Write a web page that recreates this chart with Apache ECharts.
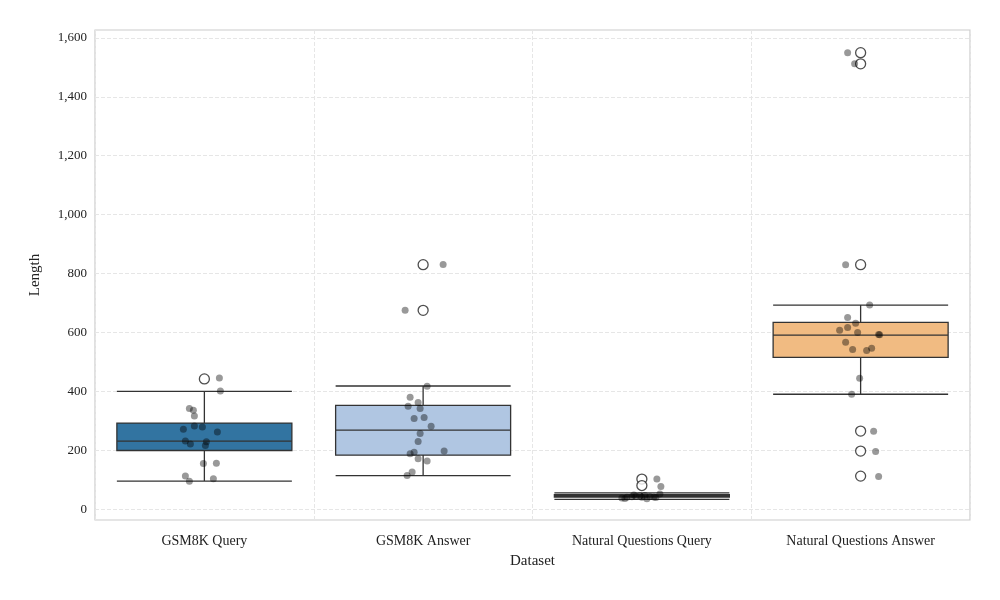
<!DOCTYPE html>
<html>
<head>
<meta charset="utf-8">
<script src="https://cdn.jsdelivr.net/npm/echarts@6/dist/echarts.min.js"></script>
<style>html,body{margin:0;padding:0;background:#fff}#contain{width:1000px;height:600px}</style>
</head>
<body>
<div id="contain"></div>
<script>
var categories = ['GSM8K Query', 'GSM8K Answer', 'Natural Questions Query', 'Natural Questions Answer'];
var colors = ['#3274a1', '#b0c6e2', '#e1812c', '#f1bb82'];
// [lower whisker, Q1, median, Q3, upper whisker]
var boxStats = [
    [95, 199, 231, 292, 400],
    [114, 183, 268, 352, 418],
    [33, 41, 45, 49, 55],
    [390, 515, 591, 634, 693]
];
var outliers = [
    [442],
    [830, 675],
    [102, 80],
    [1550, 1512, 830, 265, 197, 112]
];
// jitter points: values and horizontal offsets (px) per group
var pointValues = [
    [445, 401, 342, 336, 316, 271, 282, 279, 262, 231, 221, 229, 216, 155, 156, 112, 95, 103],
    [831, 675, 417, 380, 362, 349, 342, 308, 311, 281, 257, 230, 197, 188, 193, 171, 163, 126, 114],
    [102, 77, 51, 38, 40, 42, 44, 45, 46, 43, 41, 36, 35, 48, 40, 39],
    [1550, 1512, 830, 693, 651, 631, 607, 617, 600, 593, 592, 567, 542, 539, 546, 444, 390, 264, 196, 111]
];
var pointOffsets = [
    [15, 16, -15, -11, -10, -21, -10, -2, 13, -19, -14, 2, 1, -1, 12, -19, -15, 9],
    [20, -18, 4, -13, -5, -15, -3, -9, 1, 8, -3, -5, 21, -13, -9, -5, 4, -11, -16],
    [15, 19, 18, -20, -15, -10, -6, -2, 3, 8, 12, -17, 5, -8, 0, 14],
    [-13, -6, -15, 9, -13, -5, -21, -13, -3, 18, 19, -15, -8, 6, 11, -1, -9, 13, 15, 18]
];
var yTicks = [0, 200, 400, 600, 800, 1000, 1200, 1400, 1600];

var catWidth = 875 / 4;
var jitter = [];
var hollow = [];
for (var g = 0; g < 4; g++) {
    for (var i = 0; i < pointValues[g].length; i++) {
        jitter.push([g + pointOffsets[g][i] / catWidth, pointValues[g][i]]);
    }
    for (var j = 0; j < outliers[g].length; j++) {
        hollow.push([g, outliers[g][j]]);
    }
}

var font = 'Liberation Serif';
var option = {
    animation: false,
    grid: {left: 95, right: 30, top: 30, bottom: 80, show: true, borderColor: '#cccccc', borderWidth: 1.2},
    xAxis: [{
        type: 'category',
        data: categories,
        name: 'Dataset',
        nameLocation: 'middle',
        nameGap: 34,
        nameTextStyle: {fontFamily: font, fontSize: 15, color: '#222'},
        axisLine: {show: false},
        axisTick: {show: false},
        axisLabel: {fontFamily: font, fontSize: 14, color: '#222', margin: 14},
        splitLine: {show: true, lineStyle: {type: 'dashed', color: '#e6e6e6'}}
    }, {
        type: 'value', min: -0.5, max: 3.5, show: false
    }],
    yAxis: {
        type: 'value',
        min: -37,
        max: 1627,
        name: 'Length',
        nameLocation: 'middle',
        nameGap: 52,
        nameTextStyle: {fontFamily: font, fontSize: 15, color: '#222'},
        axisLine: {show: false},
        axisTick: {show: false, customValues: yTicks},
        axisLabel: {fontFamily: font, fontSize: 13, color: '#222', customValues: yTicks},
        splitLine: {show: true, lineStyle: {type: 'dashed', color: '#e6e6e6'}}
    },
    series: [{
        type: 'boxplot',
        boxWidth: ['80%', '80%'],
        data: boxStats.map(function (v, k) {
            return {value: v, itemStyle: {color: colors[k], borderColor: '#333', borderWidth: 1.3}};
        }),
        z: 2
    }, {
        type: 'scatter',
        data: hollow,
        symbolSize: 10,
        itemStyle: {color: '#fff', borderColor: '#222', borderWidth: 1.3},
        z: 3
    }, {
        type: 'scatter',
        xAxisIndex: 1,
        data: jitter,
        symbolSize: 7,
        itemStyle: {color: 'rgba(0,0,0,0.5)'},
        z: 4
    }]
};
var myChart = echarts.init(document.getElementById('contain'));
myChart.setOption(option);
</script>
</body>
</html>
